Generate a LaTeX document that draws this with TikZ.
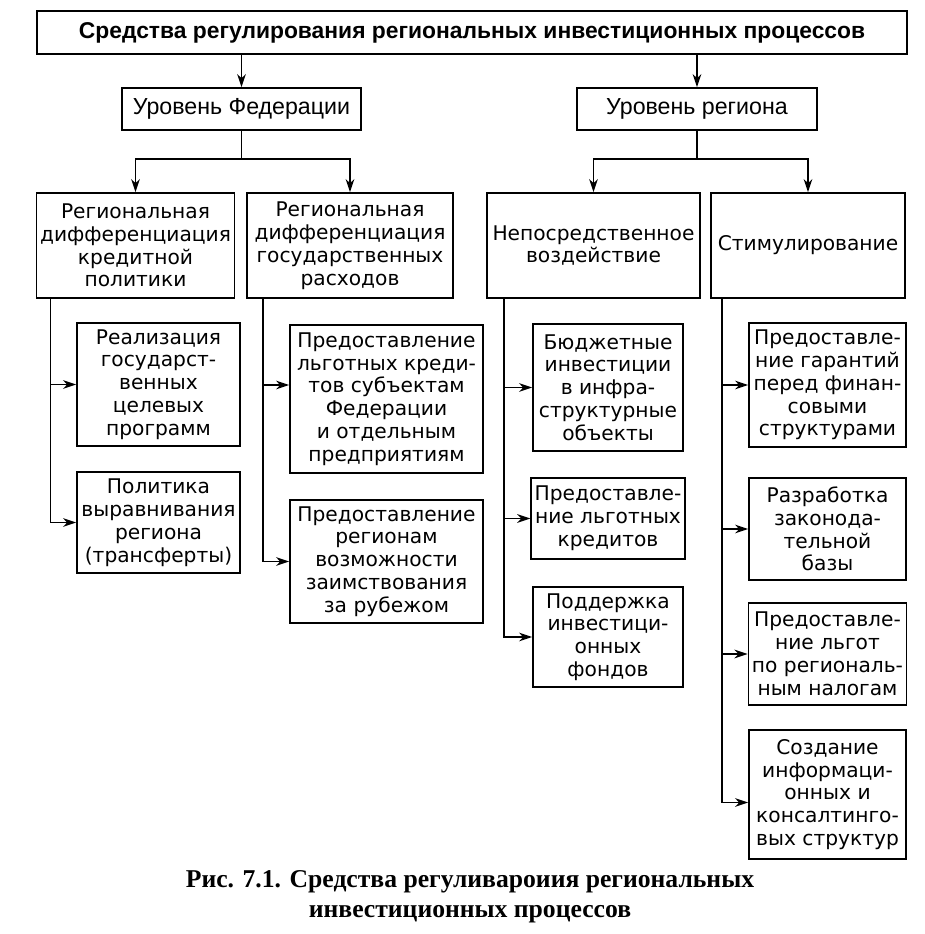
\documentclass[tikz,border=0pt]{standalone}
\usepackage{fontspec}
\setmainfont{DejaVu Sans}
\newfontfamily\headfont{Liberation Sans}
\newfontfamily\capfont{Liberation Serif}
\usetikzlibrary{arrows.meta, positioning, calc}

\begin{document}
\begin{tikzpicture}[x=0.02cm, y=-0.02cm,
        % --- TikZ Styles ---
        basebox/.style={
            draw, line width=1pt, align=center, inner sep=2pt,
            font=\fontsize{11.5}{13}\selectfont
        },
        boxsize/.style 2 args={minimum width=#1*0.02cm, minimum height=#2*0.02cm},
        topbox/.style={basebox, font=\headfont\bfseries\fontsize{13}{16}\selectfont},
        levelbox/.style={basebox, font=\headfont\fontsize{13.2}{16}\selectfont},
        link/.style={line width=0.9pt},
        arrow/.style={link, -{Stealth[length=7.5pt,width=5pt]}}
    ]
    \useasboundingbox (0,0) rectangle (924,934);

    % --- 1. HEAD ---
    \node[topbox, boxsize={870}{43}] (means) at (472,32.5)
        {Средства регулирования региональных инвестиционных процессов};

    \node[levelbox, boxsize={239}{42}] (fedlevel) at (241.5,109) {Уровень Федерации};
    \node[levelbox, boxsize={240}{42}] (reglevel) at (697,109) {Уровень региона};

    % --- 2. DIRECTIONS ---
    \node[basebox, boxsize={197}{105}] (creditpol) at (135.5,245.5)
        {Региональная\\ дифференциация\\ кредитной\\ политики};
    \node[basebox, boxsize={206}{105}] (spending) at (350,245.5)
        {Региональная\\ дифференциация\\ государственных\\ расходов};
    \node[basebox, boxsize={213}{105}] (direct) at (593.5,245.5)
        {Непосредственное\\ воздействие};
    \node[basebox, boxsize={194}{105}] (stimul) at (808,245.5)
        {Стимулирование};

    % --- 3. MEASURES ---
    \node[basebox, boxsize={163}{123}] (programs) at (158.5,384.5)
        {Реализация\\ государст-\\ венных\\ целевых\\ программ};
    \node[basebox, boxsize={163}{101}] (transfers) at (158.5,522.5)
        {Политика\\ выравнивания\\ региона\\ (трансферты)};

    \node[basebox, boxsize={193}{148}] (softloans) at (386.5,399)
        {Предоставление\\ льготных креди-\\ тов субъектам\\ Федерации\\ и отдельным\\ предприятиям};
    \node[basebox, boxsize={193}{123}] (borrowing) at (386.5,561.5)
        {Предоставление\\ регионам\\ возможности\\ заимствования\\ за рубежом};

    \node[basebox, boxsize={150}{127}] (budget) at (608,387.5)
        {Бюджетные\\ инвестиции\\ в инфра-\\ структурные\\ объекты};
    \node[basebox, boxsize={150}{81}] (credits) at (608,518.5)
        {Предоставле-\\ ние льготных\\ кредитов};
    \node[basebox, boxsize={150}{100}] (funds) at (608,637)
        {Поддержка\\ инвестици-\\ онных\\ фондов};

    \node[basebox, boxsize={157}{124}] (guarantees) at (827.5,385)
        {Предоставле-\\ ние гарантий\\ перед финан-\\ совыми\\ структурами};
    \node[basebox, boxsize={157}{102}] (lawbase) at (827.5,529)
        {Разработка\\ законода-\\ тельной\\ базы};
    \node[basebox, boxsize={157}{102}] (taxes) at (827.5,654)
        {Предоставле-\\ ние льгот\\ по региональ-\\ ным налогам};
    \node[basebox, boxsize={157}{129}] (consult) at (827.5,794.5)
        {Создание\\ информаци-\\ онных и\\ консалтинго-\\ вых структур};

    % --- CAPTION ---
    \node[font=\capfont\bfseries\fontsize{14.6}{17}\selectfont, align=center] (caption) at (470,897)
        {Рис. 7.1. Средства регуливароиия региональных\\ инвестиционных процессов};

    % --- CONNECTIONS ---
    % head to levels
    \draw[arrow] (means.south -| fedlevel.north) -- (fedlevel.north);
    \draw[arrow] (means.south -| reglevel.north) -- (reglevel.north);

    % levels to directions (bus at y=158)
    \draw[link] (fedlevel.south) -- ++(0,28) coordinate (fedbus);
    \draw[arrow] (fedbus) -| (creditpol.north);
    \draw[arrow] (fedbus) -| (spending.north);
    \draw[link] (reglevel.south) -- ++(0,28) coordinate (regbus);
    \draw[arrow] (regbus) -| (direct.north);
    \draw[arrow] (regbus) -| (stimul.north);

    % directions to measures (trunks on the left side)
    \coordinate (trunkA) at ($(creditpol.south west)+(15,0)$);
    \coordinate (trunkB) at ($(spending.south west)+(17,0)$);
    \coordinate (trunkC) at ($(direct.south west)+(18,0)$);
    \coordinate (trunkD) at ($(stimul.south west)+(12,0)$);

    \draw[arrow] (trunkA) |- (programs.west);
    \draw[arrow] (trunkA) |- (transfers.west);
    \draw[arrow] (trunkB) |- ($(softloans.west)+(0,-14)$);
    \draw[arrow] (trunkB) |- (borrowing.west);
    \draw[arrow] (trunkC) |- (budget.west);
    \draw[arrow] (trunkC) |- (credits.west);
    \draw[arrow] (trunkC) |- (funds.west);
    \draw[arrow] (trunkD) |- (guarantees.west);
    \draw[arrow] (trunkD) |- (lawbase.west);
    \draw[arrow] (trunkD) |- (taxes.west);
    \draw[arrow] (trunkD) |- ($(consult.west)+(0,8)$);

\end{tikzpicture}
\end{document}
